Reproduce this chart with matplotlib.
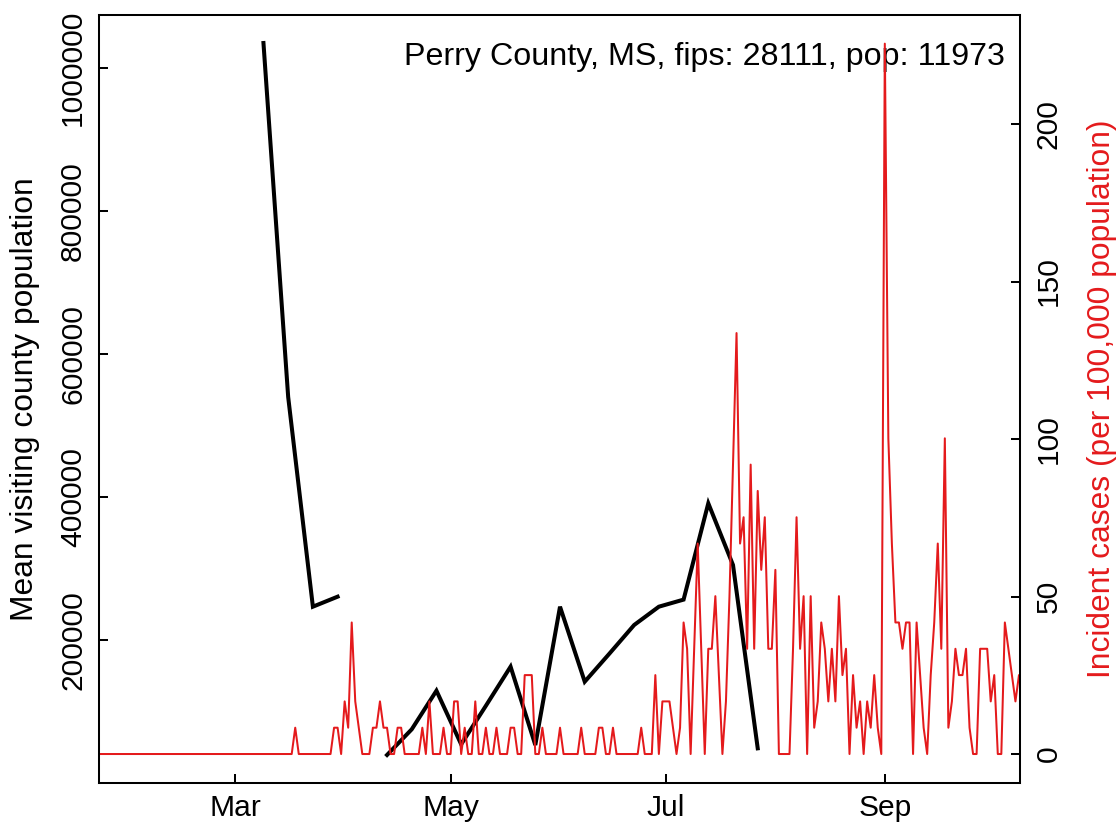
import numpy as np
import pandas as pd
import matplotlib
matplotlib.use('Agg')
from matplotlib import pyplot as plt

plt.rcParams['font.family'] = ['Liberation Sans', 'DejaVu Sans']

county_label = 'Perry County, MS, fips: 28111, pop: 11973'
population = 11973

# daily new cases, one value per day from case_start
case_start = '2020-01-22'
daily_cases = [
    0, 0, 0, 0, 0, 0, 0, 0, 0, 0, 0, 0, 0, 0, 0, 0, 0, 0, 0, 0,
    0, 0, 0, 0, 0, 0, 0, 0, 0, 0, 0, 0, 0, 0, 0, 0, 0, 0, 0, 0,
    0, 0, 0, 0, 0, 0, 0, 0, 0, 0, 0, 0, 0, 0, 0, 0,
    1, 0, 0, 0, 0, 0, 0, 0, 0, 0, 0,                      # Mar 18 - 28
    1, 1, 0, 2, 1, 5, 2, 1, 0, 0, 0, 1, 1, 2, 1, 1, 0, 0,  # Mar 29 - Apr 15
    1, 1, 0, 0, 0, 0, 0, 1, 0, 2, 0, 0, 0, 1, 0, 0, 2, 2,
    0, 1, 0, 0, 2, 0, 0, 1, 0, 0, 1, 0, 0, 0, 1, 1, 0, 0,
    3, 3, 3, 0, 0, 1, 0, 0, 0, 0, 1, 0, 0, 0, 0, 0, 1, 0,
    0, 0, 0, 1, 1, 0, 0, 1, 0, 0, 0, 0, 0, 0, 0, 1, 0, 0,
    0, 3, 0, 2, 2, 2, 1, 0, 1, 5, 4, 0, 4, 8, 4, 0, 4, 4,
    6, 3, 0, 2, 6, 11, 16, 8, 9, 4, 11, 4, 10, 7, 9, 4, 4, 7,
    0, 0, 0, 0, 4, 9, 4, 6, 0, 6, 1, 2, 5, 4, 2, 4, 2, 6,
    3, 4, 0, 3, 1, 2, 0, 2, 1, 3, 1, 0, 27, 12, 8, 5, 5, 4,
    5, 5, 0, 5, 3, 1, 0, 3, 5, 8, 4, 12, 1, 2, 4, 3, 3, 4,
    1, 0, 0, 4, 4, 4, 2, 3, 0, 0, 5, 4, 3, 2, 3, 3,
]

# weekly mean visiting population
visit_start = '2020-03-09'
mean_visiting = [
    1035000, 540000, 246600, 260600, np.nan, 39200, 75100, 129100,
    54100, 108000, 162700, 53100, 246600, 141700, 181000, 221000,
    246600, 256500, 391200, 304900, 48500,
]

month_ticks = ['2020-03-01', '2020-05-01', '2020-07-01', '2020-09-01']
month_labels = ['Mar', 'May', 'Jul', 'Sep']
left_ticks = [200000, 400000, 600000, 800000, 1000000]
right_ticks = [0, 50, 100, 150, 200]

case_dates = pd.date_range(case_start, periods=len(daily_cases), freq='D')
visit_dates = pd.date_range(visit_start, periods=len(mean_visiting), freq='7D')
incidence = np.array(daily_cases) * 1e5 / population

red = '#E41A1C'
fs = 21.6
fs_lab = 22.9

fig = plt.figure(figsize=(11.19, 8.26), dpi=100)
ax1 = fig.add_axes([99 / 1119, 1 - 783 / 826, 921 / 1119, 768.3 / 826])
ax2 = ax1.twinx()

ax1.plot(visit_dates, mean_visiting, color='black', lw=2.9,
         solid_joinstyle='miter')
ax2.plot(case_dates, incidence, color=red, lw=1.45)

ax1.set_xlim(pd.Timestamp('2020-01-22 10:00'), pd.Timestamp('2020-10-09 07:00'))
ax1.set_ylim(0, 1074600)
ax2.set_ylim(-9.2, 234.7)

ax1.set_xticks(pd.to_datetime(month_ticks))
ax1.set_xticklabels(month_labels)
ax1.set_yticks(left_ticks)
ax1.set_yticklabels([str(v) for v in left_ticks], rotation=90, va='center')
ax2.set_yticks(right_ticks)
ax2.set_yticklabels([str(v) for v in right_ticks], rotation=90, va='center')

for ax in (ax1, ax2):
    for s in ax.spines.values():
        s.set_linewidth(1.45)
    ax.tick_params(direction='in', length=6.5, width=1.45, labelsize=fs)
ax1.tick_params(axis='y', pad=8.5)
ax1.tick_params(axis='x', pad=8)
ax2.tick_params(axis='y', pad=10.5)

fig.text(33 / 1119, 1 - 399 / 826, 'Mean visiting county population',
         rotation=90, rotation_mode='anchor', ha='center', va='baseline',
         fontsize=fs_lab)
fig.text(1110 / 1119, 1 - 399 / 826, 'Incident cases (per 100,000 population)',
         rotation=90, rotation_mode='anchor', ha='center', va='baseline',
         fontsize=fs_lab, color=red)

ax1.text(1005 / 1119, 1 - 65 / 826, county_label, transform=fig.transFigure,
         ha='right', va='baseline', fontsize=23.2)

fig.savefig('out.png', dpi=100)
